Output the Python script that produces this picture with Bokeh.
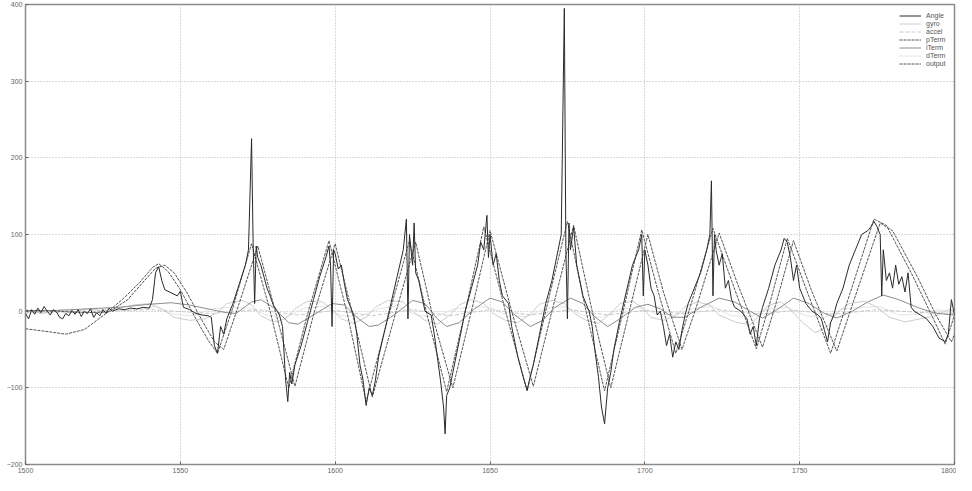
from bokeh.plotting import figure
from bokeh.embed import file_html
from bokeh.resources import INLINE
from bokeh.models import FixedTicker, Range1d

# ---------------- data ----------------
x_ticks = [1500, 1550, 1600, 1650, 1700, 1750, 1800]
y_ticks = [-200, -100, 0, 100, 200, 300, 400]

angle_x = [1500, 1501, 1502, 1503, 1504, 1505, 1506, 1507, 1508, 1509, 1510, 1511, 1512, 1513, 1514,
           1515, 1516, 1517, 1518, 1519, 1520, 1521, 1522, 1523, 1524, 1525, 1526, 1527, 1528, 1530,
           1532, 1534, 1536, 1538, 1540, 1541, 1542, 1543, 1544, 1545, 1547, 1549, 1550, 1551, 1553,
           1555, 1557, 1559, 1560, 1561, 1562, 1563, 1564, 1565, 1567, 1569, 1571, 1572, 1573, 1573.5,
           1574, 1574.5, 1575, 1576, 1577, 1578, 1579, 1580, 1581, 1582, 1583, 1584, 1584.7, 1585.3,
           1586, 1587, 1589, 1591, 1593, 1595, 1597, 1598, 1598.5, 1599, 1599.5, 1600, 1601, 1602, 1603,
           1604, 1605, 1606, 1607, 1608, 1609, 1610, 1611, 1612, 1613, 1614, 1616, 1618, 1620, 1622,
           1623, 1623.5, 1624, 1625, 1625.5, 1626, 1627, 1628, 1629, 1631, 1632, 1634, 1635, 1635.5,
           1636, 1637, 1638, 1640, 1642, 1644, 1646, 1647, 1648, 1649, 1649.5, 1650, 1651, 1652, 1653,
           1654, 1656, 1657, 1659, 1661, 1662, 1663, 1664, 1666, 1668, 1670, 1672, 1673, 1674, 1674.5,
           1675, 1675.5, 1676, 1677, 1678, 1679, 1680, 1681, 1682, 1683, 1684, 1685, 1686, 1687, 1688,
           1689, 1690, 1692, 1694, 1696, 1698, 1699, 1699.5, 1700, 1701, 1702, 1703, 1704, 1705, 1706,
           1707, 1708, 1709, 1710, 1711, 1712, 1713, 1714, 1716, 1718, 1720, 1721, 1721.5, 1722, 1722.5,
           1723, 1724, 1725, 1726, 1727, 1728, 1729, 1731, 1732, 1733, 1734, 1735, 1736, 1737, 1738,
           1740, 1742, 1744, 1745, 1746, 1747, 1748, 1749, 1750, 1751, 1752, 1754, 1756, 1757, 1758,
           1759, 1760, 1761, 1762, 1764, 1766, 1768, 1770, 1772, 1773, 1774, 1775, 1776, 1776.5, 1777,
           1778, 1779, 1780, 1781, 1782, 1783, 1784, 1785, 1786, 1787, 1789, 1791, 1793, 1795, 1797,
           1798, 1799, 1800]
angle_y = [-3, -10, 2, -4, 4, -2, 6, 0, -5, 2, -1, -8, -10, -3, -6,
           1, -4, 2, -7, 0, -3, 3, -8, -2, -6, 2, -3, 4, 0, 3,
           2, 4, 3, 5, 4, 15, 50, 58, 40, 28, 24, 20, 26, 5, 2,
           -3, -5, -6, -8, -45, -55, -20, -30, -10, 10, 35, 60, 80, 225, 90,
           10, 85, 70, 60, 45, 30, 20, 8, 2, -5, -20, -90, -118, -80,
           -95, -70, -45, -15, 15, 45, 70, 85, 60, -20, 80, 75, 55, 60, 35,
           15, 5, -5, -30, -70, -90, -123, -100, -110, -90, -60, -25, 10, 45, 80,
           120, -10, 100, 60, 115, 50, 40, 20, 0, -5, -30, -90, -125, -160,
           -110, -100, -80, -40, 0, 30, 60, 90, 80, 125, 70, 100, 60, 75, 40,
           20, 10, -20, -60, -90, -103, -85, -70, -30, 10, 40, 80, 100, 395, 80,
           -10, 115, 80, 110, 60, 40, 20, 10, 0, -20, -55, -85, -125, -147, -100,
           -80, -50, -10, 25, 60, 80, 100, 20, 80, 60, 30, 20, -5, 0, -20,
           -45, -30, -60, -40, -50, -25, -5, 10, 30, 50, 80, 100, 170, 20, 100,
           80, 60, 75, 30, 40, 15, 5, 0, -5, -10, -30, -20, -45, -10, 5,
           30, 60, 80, 95, 90, 70, 40, 60, 30, 20, 10, 0, -5, -10, -25,
           -40, -15, -5, 10, 30, 60, 80, 100, 105, 110, 117, 110, 100, 20, 80,
           40, 50, 30, 60, 35, 45, 25, 50, 5, 0, -5, -10, -20, -35, -40,
           -30, 15, -5]

gyro_x = [1500, 1505, 1510, 1515, 1520, 1525, 1530, 1535, 1540, 1544, 1548, 1553, 1558, 1562, 1565,
          1570, 1573, 1576, 1580, 1584, 1587, 1591, 1596, 1599, 1602, 1606, 1610, 1613, 1617, 1622,
          1625, 1629, 1633, 1637, 1640, 1644, 1648, 1651, 1655, 1659, 1663, 1666, 1670, 1674, 1677,
          1681, 1685, 1689, 1692, 1696, 1699, 1702, 1706, 1710, 1713, 1717, 1721, 1724, 1729, 1734,
          1737, 1740, 1744, 1747, 1751, 1755, 1759, 1762, 1766, 1771, 1775, 1779, 1784, 1789, 1794,
          1798, 1800]
gyro_y = [2, -3, 1, -2, 3, 0, 4, 8, 10, 3, -8, -12, -10, -2, 10,
          14, 8, -6, -14, -10, 3, 13, 12, 2, -10, -16, -8, 5, 14, 12,
          0, -12, -17, -5, 8, 15, 10, -3, -12, -15, -4, 9, 14, 10, -2,
          -12, -16, -3, 10, 13, 5, -8, -12, -6, 6, 12, 8, -5, -14, -18,
          -5, 8, 12, 2, -15, -28, -20, -2, 10, 13, 5, -8, -14, -10, -6,
          2, 0]

accel_x = [1500, 1520, 1540, 1560, 1575, 1588, 1600, 1612, 1625, 1637, 1650, 1663, 1676, 1688, 1700,
           1712, 1724, 1737, 1748, 1761, 1775, 1790, 1800]
accel_y = [-2, -1, 2, -3, 2, -5, 1, -6, 2, -6, 2, -5, 2, -5, 1,
           -3, 2, -4, 1, -4, 2, -2, -3]

pterm_x = [1500, 1506, 1513, 1519, 1526, 1532, 1537, 1541, 1543, 1546, 1550, 1555, 1559, 1562, 1567,
           1573, 1579, 1585, 1591, 1598, 1604, 1610, 1617, 1624, 1630, 1636, 1642, 1648, 1655, 1662,
           1668, 1675, 1681, 1687, 1693, 1699, 1704, 1710, 1715, 1722, 1728, 1736, 1740, 1746, 1752,
           1760, 1766, 1774, 1778, 1786, 1792, 1797, 1800]
pterm_y = [-23, -26, -30, -24, -3, 18, 38, 57, 62, 52, 28, -10, -38, -55, 5,
           88, 0, -100, -5, 92, -5, -118, -10, 92, -10, -105, 0, 110, 0, -104,
           0, 117, 0, -104, 0, 106, 30, -55, 10, 108, 40, -49, 5, 95, 30,
           -55, 20, 120, 112, 50, 0, -43, -5]

iterm_x = [1500, 1510, 1520, 1530, 1540, 1547, 1553, 1560, 1565, 1568, 1573, 1576, 1580, 1585, 1588,
           1593, 1599, 1603, 1607, 1611, 1614, 1619, 1625, 1629, 1633, 1636, 1640, 1645, 1650, 1654,
           1658, 1663, 1667, 1671, 1676, 1680, 1684, 1688, 1692, 1697, 1701, 1705, 1709, 1713, 1718,
           1724, 1729, 1734, 1738, 1742, 1748, 1753, 1758, 1762, 1767, 1772, 1777, 1782, 1788, 1793,
           1797, 1800]
iterm_y = [0, 1, 3, 5, 9, 11, 8, 2, -2, -3, 12, 15, 5, -15, -17,
           -5, 10, 8, -8, -20, -18, -5, 14, 10, -10, -20, -15, 3, 17, 12,
           -5, -20, -12, 5, 17, 10, -8, -20, -10, 5, 9, 3, -8, -8, 5,
           17, 12, 0, -9, 0, 17, 10, -3, -9, 0, 12, 21, 15, 5, -2,
           -4, -5]

dterm_x = [1500, 1506, 1512, 1518, 1524, 1530, 1536, 1542, 1548, 1554, 1560, 1566, 1572, 1578, 1584,
           1590, 1596, 1602, 1608, 1614, 1620, 1626, 1632, 1638, 1644, 1650, 1656, 1662, 1668, 1674,
           1680, 1686, 1692, 1698, 1704, 1710, 1716, 1722, 1728, 1734, 1740, 1746, 1752, 1758, 1764,
           1770, 1776, 1782, 1788, 1794, 1800]
dterm_y = [1, -3, 2, -2, 3, 0, 2, 6, -4, -6, 3, 5, 4, -5, -8,
           4, 6, -6, -7, 3, 7, -5, -8, 2, 6, 5, -6, -7, 4, 6,
           -5, -8, 3, 5, -4, -5, 4, 6, -6, -7, 3, 5, -6, -8, 3,
           5, 6, -5, -4, 2, -2]

output_x = [1500, 1510, 1520, 1527, 1533, 1538, 1542, 1545, 1548, 1552, 1557, 1561, 1564, 1569, 1575,
            1581, 1587, 1593, 1600, 1606, 1612, 1619, 1626, 1632, 1638, 1644, 1650, 1657, 1664, 1670,
            1677, 1683, 1689, 1695, 1701, 1706, 1712, 1717, 1724, 1730, 1738, 1742, 1748, 1754, 1762,
            1768, 1776, 1780, 1788, 1794, 1799, 1800]
output_y = [1, 0, -2, -1, 15, 38, 56, 60, 50, 25, -12, -40, -50, 10, 85,
            -5, -98, -5, 88, -10, -112, -10, 90, -15, -100, 0, 105, 0, -98, 0,
            112, 0, -100, 0, 100, 25, -50, 10, 102, 35, -47, 5, 92, 25, -52,
            20, 115, 105, 45, -5, -40, -30]

# ---------------- figure ----------------
p = figure(width=956, height=475, output_backend="svg", toolbar_location=None,
           x_range=Range1d(1500, 1800), y_range=Range1d(-200, 400),
           min_border_left=25, min_border_right=2, min_border_top=4, min_border_bottom=10)

p.background_fill_color = "white"
p.border_fill_color = "white"
p.outline_line_color = "#8a8a8a"
p.outline_line_width = 1.5

for ax in (p.xaxis[0], p.yaxis[0]):
    ax.axis_line_color = None
    ax.major_tick_in = 3
    ax.major_tick_out = 0
    ax.minor_tick_line_color = None
    ax.major_tick_line_color = "#666666"
    ax.major_label_text_font_size = "7px"
    ax.major_label_text_color = "#666666"
    ax.major_label_text_font = "Liberation Sans"
    ax.major_label_standoff = 3

p.xaxis.ticker = FixedTicker(ticks=x_ticks)
p.yaxis.ticker = FixedTicker(ticks=y_ticks)

p.xgrid.grid_line_color = "#b4b4b4"
p.ygrid.grid_line_color = "#b4b4b4"
p.xgrid.grid_line_dash = "1 2"
p.ygrid.grid_line_dash = "1 2"
p.xgrid.grid_line_width = 1
p.ygrid.grid_line_width = 1

p.line(dterm_x, dterm_y, line_color="#e4e4e4", line_width=1, legend_label="dTerm")
p.line(gyro_x, gyro_y, line_color="#cccccc", line_width=1, legend_label="gyro")
p.line(accel_x, accel_y, line_color="#c8c8c8", line_width=1, line_dash="4 2", legend_label="accel")
p.line(iterm_x, iterm_y, line_color="#8c8c8c", line_width=1, legend_label="iTerm")
p.line(pterm_x, pterm_y, line_color="#555555", line_width=1, line_dash="3 1", legend_label="pTerm")
p.line(output_x, output_y, line_color="#555555", line_width=1, line_dash="3 1", legend_label="output")
p.line(angle_x, angle_y, line_color="#2a2a2a", line_width=1, legend_label="Angle")

p.legend.location = "top_right"
p.legend.label_text_font_size = "7px"
p.legend.label_text_color = "#555555"
p.legend.glyph_height = 7
p.legend.glyph_width = 22
p.legend.label_height = 7
p.legend.spacing = 1
p.legend.padding = 2
p.legend.margin = 6
p.legend.background_fill_alpha = 0
p.legend.border_line_alpha = 0

order = ["Angle", "gyro", "accel", "pTerm", "iTerm", "dTerm", "output"]
items = {it.label.value: it for it in p.legend.items}
p.legend.items = [items[k] for k in order]

open("out.html", "w").write(file_html(p, INLINE))
